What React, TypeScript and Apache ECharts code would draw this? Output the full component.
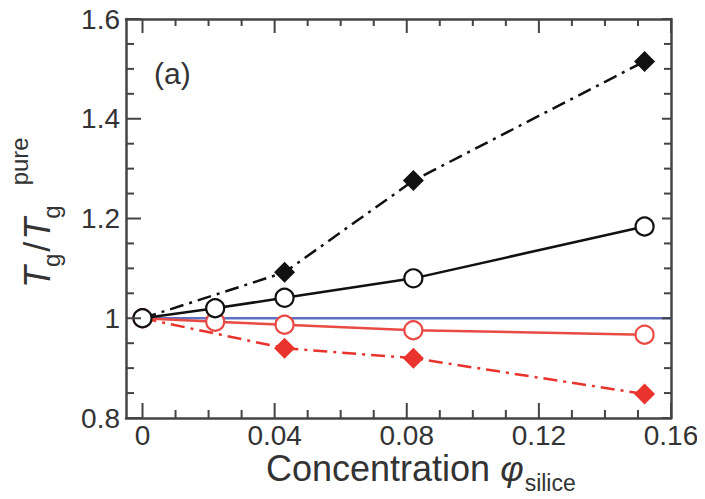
import React, { useEffect, useRef } from "react";
import * as echarts from "echarts";

// ---- data ----
const xMajorTicks = [0, 0.04, 0.08, 0.12, 0.16];
const xMinorTicks = [0.01, 0.02, 0.03, 0.05, 0.06, 0.07, 0.09, 0.1, 0.11, 0.13, 0.14, 0.15];
const yMajorTicks = [0.8, 1.0, 1.2, 1.4, 1.6];
const yMinorTicks = [0.85, 0.9, 0.95, 1.05, 1.1, 1.15, 1.25, 1.3, 1.35, 1.45, 1.5, 1.55];
const xRange = [-0.005, 0.16];
const yRange = [0.8, 1.6];
const yStep = 0.2;

const phiCircles = [0, 0.022, 0.043, 0.082, 0.152];
const blackCircles = [1.0, 1.02, 1.041, 1.08, 1.184];
const redCircles = [1.0, 0.993, 0.987, 0.976, 0.967];

const phiDiamonds = [0, 0.043, 0.082, 0.152];
const blackDiamonds = [1.0, 1.092, 1.276, 1.515];
const redDiamonds = [1.0, 0.94, 0.92, 0.848];

const refLineX = [0, 0.16];
const refLineY = [1.0, 1.0];

const FONT = "'Liberation Sans', Arial, Helvetica, sans-serif";
const AXIS_COLOR = "#444";
const TEXT_COLOR = "#333";
const BLACK = "#111";
const RED = "#e8342c";
const RED_LIGHT = "#ea4a44";
const BLUE = "#5f6fc4";

// side codes for frame ticks
const BOTTOM = 0, TOP = 1, LEFT = 2, RIGHT = 3;

function pairs(xs: number[], ys: number[]) {
  return xs.map((x, i) => [x, ys[i]]);
}

function measure(text: string, font: string) {
  const c = document.createElement("canvas").getContext("2d");
  if (!c) return text.length * 15;
  c.font = font;
  return c.measureText(text).width;
}

export default function App() {
  const ref = useRef<HTMLDivElement>(null);
  useEffect(() => {
    if (!ref.current) return;
    const chart = echarts.init(ref.current, undefined, { renderer: "svg" });

    const lineStyle = { color: AXIS_COLOR, width: 2.5 };

    const diamondData = (ys: number[]) =>
      phiDiamonds.map((x, i) =>
        i === 0 ? { value: [x, ys[i]], symbol: "none" } : { value: [x, ys[i]] }
      );

    // tick marks: [value, side, length]
    const tickData = [
      ...xMajorTicks.map((v) => [v, BOTTOM, 15]),
      ...xMinorTicks.map((v) => [v, BOTTOM, 8]),
      ...xMajorTicks.map((v) => [v, TOP, 14]),
      ...xMinorTicks.map((v) => [v, TOP, 7]),
      ...yMajorTicks.map((v) => [v, LEFT, 15]),
      ...yMinorTicks.map((v) => [v, LEFT, 8]),
      ...yMajorTicks.map((v) => [v, RIGHT, 9]),
      ...yMinorTicks.map((v) => [v, RIGHT, 7]),
    ];

    const renderTick = (params: any, api: any) => {
      const v = api.value(0);
      const side = api.value(1);
      const len = api.value(2);
      let p: number[];
      let q: number[];
      if (side === BOTTOM) {
        p = api.coord([v, yRange[0]]);
        q = [p[0], p[1] - len];
      } else if (side === TOP) {
        p = api.coord([v, yRange[1]]);
        q = [p[0], p[1] + len];
      } else if (side === LEFT) {
        p = api.coord([xRange[0], v]);
        q = [p[0] + len, p[1]];
      } else {
        p = api.coord([xRange[1], v]);
        q = [p[0] - len, p[1]];
      }
      return {
        type: "line",
        shape: { x1: p[0], y1: p[1], x2: q[0], y2: q[1] },
        style: { stroke: AXIS_COLOR, lineWidth: 2 },
      };
    };

    // x-title pieces
    const titleSize = 36;
    const subSize = 23;
    const xTitleLeft = 266;
    const xTitleY = 468;
    const w1 = measure("Concentration ", `${titleSize}px 'Liberation Sans'`);
    const w2 = measure("\u03c6", `italic ${titleSize}px 'Liberation Sans'`);

    // y-title pieces (local coords in rotated group)
    const tSize = 36;
    const ySub = 24;
    const wT = measure("T", `italic ${tSize}px 'Liberation Sans'`);
    const wg = measure("g", `${ySub}px 'Liberation Sans'`);
    const wSlash = measure("/", `${tSize}px 'Liberation Sans'`);

    const option: any = {
      animation: false,
      grid: { left: 126, right: 34, top: 19, bottom: 81, containLabel: false },
      xAxis: [
        {
          type: "value",
          min: xRange[0],
          max: xRange[1],
          position: "bottom",
          axisLine: { show: true, onZero: false, lineStyle },
          axisTick: { show: false },
          axisLabel: {
            show: true,
            customValues: xMajorTicks,
            fontSize: 28,
            color: TEXT_COLOR,
            fontFamily: FONT,
            margin: 3,
            showMinLabel: true,
            showMaxLabel: true,
          },
          splitLine: { show: false },
        },
        {
          type: "value",
          min: xRange[0],
          max: xRange[1],
          position: "top",
          axisLine: { show: true, onZero: false, lineStyle },
          axisTick: { show: false },
          axisLabel: { show: false },
          splitLine: { show: false },
        },
      ],
      yAxis: [
        {
          type: "value",
          min: yRange[0],
          max: yRange[1],
          interval: yStep,
          position: "left",
          axisLine: { show: true, onZero: false, lineStyle },
          axisTick: { show: false },
          axisLabel: { show: true, fontSize: 28, color: TEXT_COLOR, fontFamily: FONT, margin: 6 },
          splitLine: { show: false },
        },
        {
          type: "value",
          min: yRange[0],
          max: yRange[1],
          interval: yStep,
          position: "right",
          axisLine: { show: true, onZero: false, lineStyle },
          axisTick: { show: false },
          axisLabel: { show: false },
          splitLine: { show: false },
        },
      ],
      series: [
        {
          type: "line",
          data: pairs(refLineX, refLineY),
          symbol: "none",
          lineStyle: { color: BLUE, width: 2.5 },
          z: 1,
        },
        {
          type: "line",
          data: diamondData(redDiamonds),
          symbol: "diamond",
          symbolSize: 21,
          itemStyle: { color: RED },
          lineStyle: { color: RED, width: 2.5, type: [14, 6, 3, 6] },
          z: 2,
        },
        {
          type: "line",
          data: pairs(phiCircles, redCircles),
          symbol: "circle",
          symbolSize: 18,
          itemStyle: { color: "#fff", borderColor: RED_LIGHT, borderWidth: 2.2 },
          lineStyle: { color: RED_LIGHT, width: 2.5 },
          z: 3,
        },
        {
          type: "line",
          data: diamondData(blackDiamonds),
          symbol: "diamond",
          symbolSize: 21,
          itemStyle: { color: BLACK },
          lineStyle: { color: BLACK, width: 2.5, type: [14, 6, 3, 6] },
          z: 4,
        },
        {
          type: "line",
          data: pairs(phiCircles, blackCircles),
          symbol: "circle",
          symbolSize: 18,
          itemStyle: { color: "#fff", borderColor: BLACK, borderWidth: 2.2 },
          lineStyle: { color: BLACK, width: 2.5 },
          z: 5,
        },
        {
          type: "custom",
          data: tickData,
          renderItem: renderTick,
          clip: false,
          z: 6,
        },
      ],
      graphic: [
        {
          type: "text",
          left: 154,
          top: 58,
          style: { text: "(a)", fontSize: 30, fontFamily: FONT, fill: TEXT_COLOR },
        },
        {
          type: "text",
          x: xTitleLeft,
          y: xTitleY,
          style: {
            text: "Concentration ",
            fontSize: titleSize,
            fontFamily: FONT,
            fill: TEXT_COLOR,
            verticalAlign: "middle",
            align: "left",
          },
        },
        {
          type: "text",
          x: xTitleLeft + w1,
          y: xTitleY,
          style: {
            text: "\u03c6",
            fontSize: titleSize,
            fontStyle: "italic",
            fontFamily: FONT,
            fill: TEXT_COLOR,
            verticalAlign: "middle",
            align: "left",
          },
        },
        {
          type: "text",
          x: xTitleLeft + w1 + w2 + 1,
          y: xTitleY + 15,
          style: {
            text: "silice",
            fontSize: subSize,
            fontFamily: FONT,
            fill: TEXT_COLOR,
            verticalAlign: "middle",
            align: "left",
          },
        },
        {
          type: "group",
          x: 37,
          y: 288,
          rotation: Math.PI / 2,
          children: [
            {
              type: "text",
              x: 0,
              y: 0,
              style: { text: "T", fontSize: tSize, fontStyle: "italic", fontFamily: FONT, fill: TEXT_COLOR, verticalAlign: "middle", align: "left" },
            },
            {
              type: "text",
              x: wT - 1,
              y: 14,
              style: { text: "g", fontSize: ySub, fontFamily: FONT, fill: TEXT_COLOR, verticalAlign: "middle", align: "left" },
            },
            {
              type: "text",
              x: wT + wg + 1,
              y: 0,
              style: { text: "/", fontSize: tSize, fontFamily: FONT, fill: TEXT_COLOR, verticalAlign: "middle", align: "left" },
            },
            {
              type: "text",
              x: wT + wg + wSlash + 3,
              y: 0,
              style: { text: "T", fontSize: tSize, fontStyle: "italic", fontFamily: FONT, fill: TEXT_COLOR, verticalAlign: "middle", align: "left" },
            },
            {
              type: "text",
              x: 2 * wT + wg + wSlash + 2,
              y: 14,
              style: { text: "g", fontSize: ySub, fontFamily: FONT, fill: TEXT_COLOR, verticalAlign: "middle", align: "left" },
            },
            {
              type: "text",
              x: 2 * wT + 2 * wg + wSlash + 22,
              y: -18,
              style: { text: "pure", fontSize: ySub, fontFamily: FONT, fill: TEXT_COLOR, verticalAlign: "middle", align: "left" },
            },
          ],
        },
      ],
    };

    chart.setOption(option);
    return () => chart.dispose();
  }, []);

  return <div ref={ref} style={{ width: 705, height: 499, margin: -8 }} />;
}
